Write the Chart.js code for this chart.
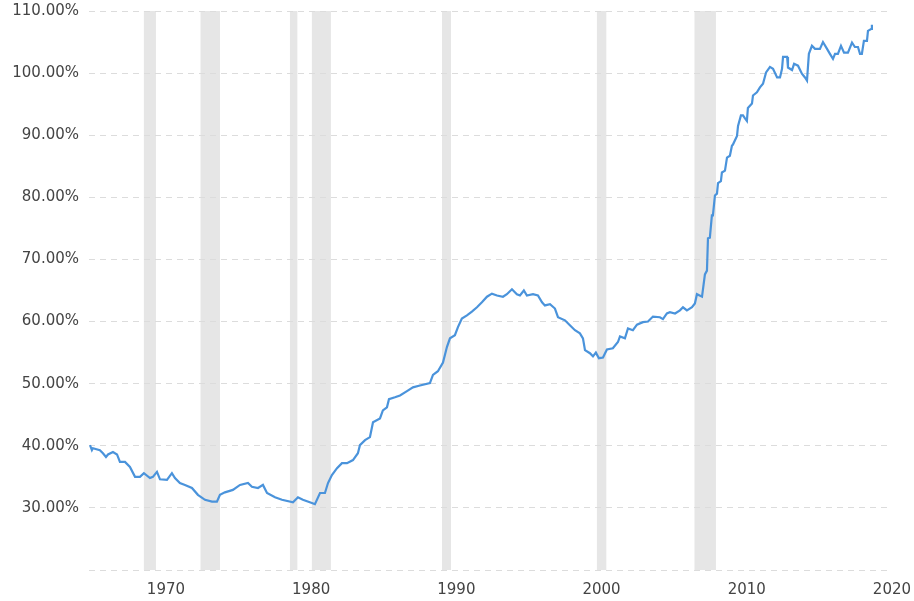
<!DOCTYPE html>
<html>
<head>
<meta charset="utf-8">
<title>Debt to GDP ratio</title>
<script src="https://cdn.jsdelivr.net/npm/chart.js@4/dist/chart.umd.min.js"></script>
<style>
  html, body { margin: 0; padding: 0; background: #fff; }
  #wrap { width: 914px; height: 601px; position: relative; }
</style>
</head>
<body>
<div id="wrap"><canvas id="debtChart"></canvas></div>
<script>
// values (x in axis years, y in percent)
const years = [
    1964.77, 1964.90, 1964.97, 1965.45, 1965.66, 1965.87, 1966.01, 1966.35, 1966.63, 1966.83,
    1967.18, 1967.52, 1967.87, 1968.21, 1968.48, 1968.90, 1969.10, 1969.38, 1969.59, 1970.07,
    1970.41, 1970.62, 1970.96, 1971.31, 1971.79, 1972.20, 1972.69, 1973.17, 1973.51, 1973.72,
    1974.06, 1974.61, 1975.10, 1975.65, 1975.92, 1976.34, 1976.68, 1976.96, 1977.51, 1977.99,
    1978.75, 1979.09, 1979.43, 1980.05, 1980.26, 1980.61, 1980.95, 1981.16, 1981.43, 1981.78,
    1982.12, 1982.47, 1982.88, 1983.22, 1983.36, 1983.71, 1984.05, 1984.26, 1984.74, 1984.94,
    1985.22, 1985.36, 1985.77, 1986.12, 1986.60, 1987.01, 1987.49, 1988.18, 1988.39, 1988.73,
    1989.08, 1989.35, 1989.56, 1989.90, 1990.11, 1990.38, 1990.73, 1991.07, 1991.42, 1991.76,
    1992.11, 1992.45, 1992.80, 1993.21, 1993.48, 1993.83, 1994.17, 1994.38, 1994.65, 1994.86,
    1995.28, 1995.62, 1995.90, 1996.10, 1996.45, 1996.79, 1997.00, 1997.48, 1997.82, 1998.17,
    1998.51, 1998.72, 1998.86, 1999.20, 1999.41, 1999.61, 1999.82, 2000.10, 2000.37, 2000.78,
    2001.13, 2001.27, 2001.61, 2001.82, 2002.16, 2002.44, 2002.85, 2003.20, 2003.54, 2004.02,
    2004.23, 2004.50, 2004.71, 2005.06, 2005.40, 2005.61, 2005.88, 2006.23, 2006.43, 2006.57,
    2006.92, 2007.12, 2007.26, 2007.33, 2007.46, 2007.60, 2007.67, 2007.81, 2007.95, 2008.02,
    2008.22, 2008.29, 2008.50, 2008.64, 2008.84, 2008.98, 2009.05, 2009.33, 2009.40, 2009.60,
    2009.74, 2009.88, 2010.01, 2010.08, 2010.36, 2010.43, 2010.70, 2010.91, 2011.12, 2011.33,
    2011.60, 2011.81, 2012.09, 2012.29, 2012.43, 2012.50, 2012.78, 2012.84, 2013.12, 2013.26,
    2013.53, 2013.80, 2014.01, 2014.15, 2014.28, 2014.49, 2014.70, 2015.04, 2015.25, 2015.53,
    2015.73, 2015.94, 2016.08, 2016.28, 2016.49, 2016.70, 2016.97, 2017.25, 2017.45, 2017.66,
    2017.80, 2017.93, 2018.07, 2018.28, 2018.35, 2018.56, 2018.62
];

const debtToGdp = [
    40.1, 39.3, 39.6, 39.3, 38.8, 38.2, 38.6, 39.0, 38.6, 37.4,
    37.4, 36.6, 35.0, 35.0, 35.6, 34.8, 35.0, 35.8, 34.6, 34.5,
    35.6, 34.8, 34.0, 33.7, 33.2, 32.1, 31.3, 31.0, 31.0, 32.1,
    32.5, 32.9, 33.7, 34.0, 33.4, 33.2, 33.7, 32.4, 31.7, 31.3,
    30.9, 31.7, 31.3, 30.8, 30.6, 32.4, 32.4, 34.0, 35.3, 36.4,
    37.2, 37.2, 37.7, 38.8, 40.1, 40.9, 41.4, 43.8, 44.4, 45.7,
    46.2, 47.5, 47.8, 48.1, 48.8, 49.4, 49.7, 50.1, 51.4, 52.0,
    53.4, 55.9, 57.3, 57.8, 59.1, 60.5, 61.0, 61.6, 62.3, 63.1,
    64.0, 64.5, 64.2, 64.0, 64.4, 65.2, 64.4, 64.2, 65.0, 64.2,
    64.4, 64.2, 63.1, 62.6, 62.8, 62.1, 60.7, 60.2, 59.4, 58.6,
    58.1, 57.3, 55.4, 54.9, 54.4, 55.0, 54.1, 54.2, 55.5, 55.7,
    56.7, 57.6, 57.3, 58.9, 58.6, 59.5, 59.9, 60.0, 60.8, 60.7,
    60.4, 61.3, 61.5, 61.3, 61.8, 62.3, 61.8, 62.3, 62.9, 64.4,
    64.0, 67.6, 68.2, 73.4, 73.5, 77.1, 77.1, 80.3, 80.6, 82.3,
    82.6, 84.0, 84.3, 86.4, 86.7, 88.3, 88.5, 89.9, 91.5, 93.2,
    93.2, 92.7, 92.3, 94.4, 95.1, 96.4, 96.9, 97.7, 98.3, 100.1,
    101.0, 100.7, 99.3, 99.3, 100.7, 102.6, 102.6, 100.9, 100.5, 101.5,
    101.2, 99.9, 99.3, 98.8, 103.1, 104.4, 103.9, 103.9, 105.0, 103.9,
    103.1, 102.3, 103.1, 103.1, 104.4, 103.3, 103.3, 104.9, 104.2, 104.2,
    103.1, 103.1, 105.2, 105.2, 106.8, 107.1, 107.8
];

// shaded recession periods, in axis years
const recessionStart = [1968.48, 1972.38, 1978.54, 1980.05, 1989.01, 1999.68, 2006.40];
const recessionEnd   = [1969.31, 1973.72, 1979.05, 1981.36, 1989.63, 2000.33, 2007.88];

const xTickYears = [1970, 1980, 1990, 2000, 2010, 2020];
const yTicks = [20, 30, 40, 50, 60, 70, 80, 90, 100, 110];

const recessionBands = {
    id: 'recessionBands',
    beforeDraw(chart) {
        const { ctx, chartArea, scales } = chart;
        ctx.save();
        ctx.fillStyle = '#e6e6e6';
        for (let i = 0; i < recessionStart.length; i++) {
            const x1 = scales.x.getPixelForValue(recessionStart[i]);
            const x2 = scales.x.getPixelForValue(recessionEnd[i]);
            ctx.fillRect(x1, chartArea.top, x2 - x1, chartArea.bottom - chartArea.top);
        }
        ctx.restore();
    }
};

const ctx = document.getElementById('debtChart').getContext('2d');
new Chart(ctx, {
    type: 'line',
    data: {
        datasets: [{
            label: 'Debt to GDP',
            data: years.map((y, i) => ({ x: y, y: debtToGdp[i] })),
            borderColor: '#4a93db',
            borderWidth: 2.2,
            pointRadius: 0,
            tension: 0,
            fill: false,
        }],
    },
    options: {
        responsive: true,
        maintainAspectRatio: false,
        animation: false,
        layout: { padding: { left: 0, right: 27, top: 11, bottom: 0 } },
        plugins: {
            legend: { display: false },
            tooltip: { enabled: false }
        },
        scales: {
            x: {
                type: 'linear',
                min: 1964.7,
                max: 2019.66,
                afterBuildTicks: scale => { scale.ticks = xTickYears.map(v => ({ value: v })); },
                afterFit: scale => {
                    scale.height = 31;
                    scale.paddingLeft = 0;
                    scale.paddingRight = 0;
                },
                grid: { display: false, drawTicks: false },
                border: { display: false },
                ticks: {
                    padding: 11,
                    maxRotation: 0,
                    autoSkip: false,
                    color: '#444',
                    font: { family: 'DejaVu Sans', size: 15 },
                    callback: v => String(v)
                }
            },
            y: {
                min: 20,
                max: 110,
                afterBuildTicks: scale => { scale.ticks = yTicks.map(v => ({ value: v })); },
                afterFit: scale => {
                    scale.width = 89;
                    scale.paddingTop = 0;
                    scale.paddingBottom = 0;
                },
                grid: {
                    color: '#dcdcdc',
                    lineWidth: 1,
                    drawTicks: false
                },
                border: { display: false, dash: [6, 5] },
                ticks: {
                    padding: 10,
                    color: '#444',
                    font: { family: 'DejaVu Sans', size: 15 },
                    callback: v => v === 20 ? '' : v.toFixed(2) + '%'
                }
            }
        }
    },
    plugins: [recessionBands]
});
</script>
</body>
</html>
